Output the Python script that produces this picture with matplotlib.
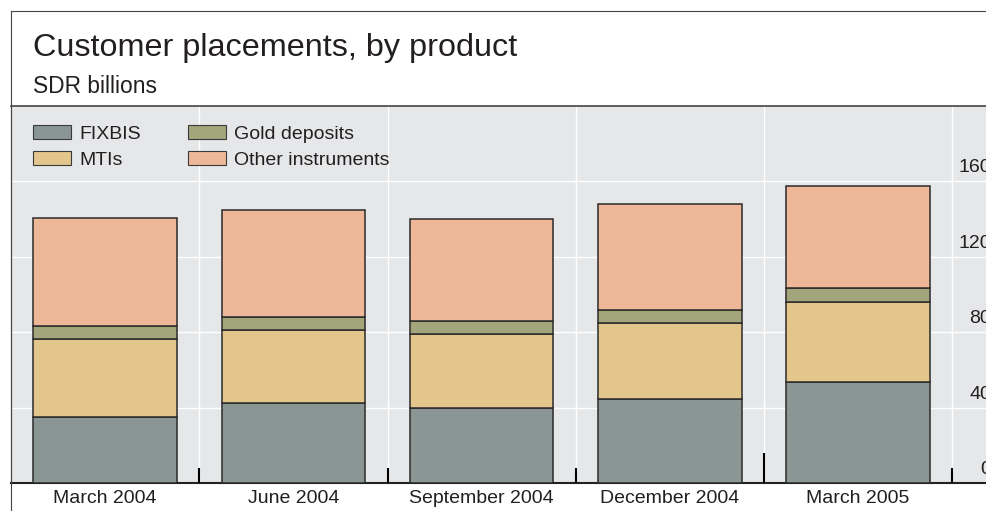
import matplotlib
matplotlib.use("Agg")
import matplotlib.pyplot as plt
from matplotlib.patches import Patch
from matplotlib.lines import Line2D

plt.rcParams['font.family'] = ['Liberation Sans', 'DejaVu Sans']

# ---- data (SDR billions) ----
categories = ["March 2004", "June 2004", "September 2004", "December 2004", "March 2005"]
fixbis = [35.2, 42.4, 39.8, 44.9, 53.8]
mtis = [41.2, 38.6, 39.2, 40.0, 42.5]
gold_deposits = [7.2, 7.2, 7.1, 7.2, 7.1]
other_instruments = [57.0, 56.8, 54.0, 56.1, 54.3]

series_names = ["FIXBIS", "MTIs", "Gold deposits", "Other instruments"]
y_ticks = [0, 40, 80, 120, 160]

# ---- styling ----
colors = ["#8a9693", "#e3c68c", "#a3a67a", "#eeb898"]
bg = "#e6e7e9"
ink = "#231f20"
edge = "#2b2b2b"

W, H = 986, 511
fig = plt.figure(figsize=(W / 100, H / 100), dpi=100)
fig.patch.set_facecolor("white")

ax_left_px, ax_top_px, ax_bottom_px = 11, 106, 483.3
ax = fig.add_axes([ax_left_px / W, 1 - ax_bottom_px / H,
                   1 - ax_left_px / W, (ax_bottom_px - ax_top_px) / H])
ax.set_facecolor(bg)
ax.set_xlim(-0.5, 4.679)
ax.set_ylim(0, 200)

x = list(range(len(categories)))
boundaries = [i + 0.5 for i in x]

# grid
for yv in y_ticks[1:]:
    ax.axhline(yv, color="white", lw=1.0, zorder=1)
for b in boundaries:
    ax.axvline(b, color="white", lw=1.0, zorder=1)

# stacked bars
stack = [fixbis, mtis, gold_deposits, other_instruments]
bottom = [0.0] * len(categories)
for name, vals, c in zip(series_names, stack, colors):
    ax.bar(x, vals, width=0.762, bottom=bottom, color=c, edgecolor=edge,
           linewidth=1.1, zorder=3, label=name)
    bottom = [b + v for b, v in zip(bottom, vals)]

# category boundary ticks (longer one at the year change)
axes_h_px = ax_bottom_px - ax_top_px
tick_len_px = [15, 15, 15, 30, 15]
for b, L in zip(boundaries, tick_len_px):
    ax.plot([b, b], [0, L / axes_h_px], transform=ax.get_xaxis_transform(),
            color="black", lw=1.5, zorder=4, solid_capstyle="butt")

# value labels on the right, sitting just above each gridline
for yv in y_ticks:
    ax.annotate(str(yv), xy=(4.705, yv), xytext=(0, 6.5), textcoords="offset points",
                ha="right", va="baseline", fontsize=14, color=ink,
                annotation_clip=False)

ax.set_yticks([])
ax.set_xticks(x, categories)
ax.tick_params(axis="x", length=0, pad=4.5, labelsize=14, labelcolor=ink)

ax.spines["right"].set_visible(False)
ax.spines["bottom"].set_color("#222222")
ax.spines["bottom"].set_linewidth(1.5)
ax.spines["top"].set_color("#333333")
ax.spines["top"].set_linewidth(1.1)
ax.spines["left"].set_color("#444444")
ax.spines["left"].set_linewidth(0.8)

# outer frame (top and left edges)
fig.add_artist(Line2D([ax_left_px / W, ax_left_px / W], [0, 1 - 11.5 / H],
                      transform=fig.transFigure, color="#444444", lw=0.8))
fig.add_artist(Line2D([ax_left_px / W, 1], [1 - 11.5 / H, 1 - 11.5 / H],
                      transform=fig.transFigure, color="#444444", lw=0.8))

# titles
fig.text(33 / W, 1 - 56 / H, "Customer placements, by product", fontsize=23.3,
         color=ink, va="baseline", ha="left")
fig.text(33 / W, 1 - 93 / H, "SDR billions", fontsize=16.4,
         color=ink, va="baseline", ha="left")

# legend
handles = [Patch(facecolor=c, edgecolor="#3a3a3a", linewidth=0.8) for c in colors]
fig.legend(handles, series_names, loc="upper left",
           bbox_to_anchor=(33 / W, 1 - 125 / H), ncol=2, frameon=False,
           fontsize=14, borderpad=0, borderaxespad=0, handlelength=1.96,
           handleheight=0.72, handletextpad=0.41, columnspacing=2.45,
           labelspacing=0.44, labelcolor=ink)

fig.savefig("out.png", dpi=100, facecolor="white")
